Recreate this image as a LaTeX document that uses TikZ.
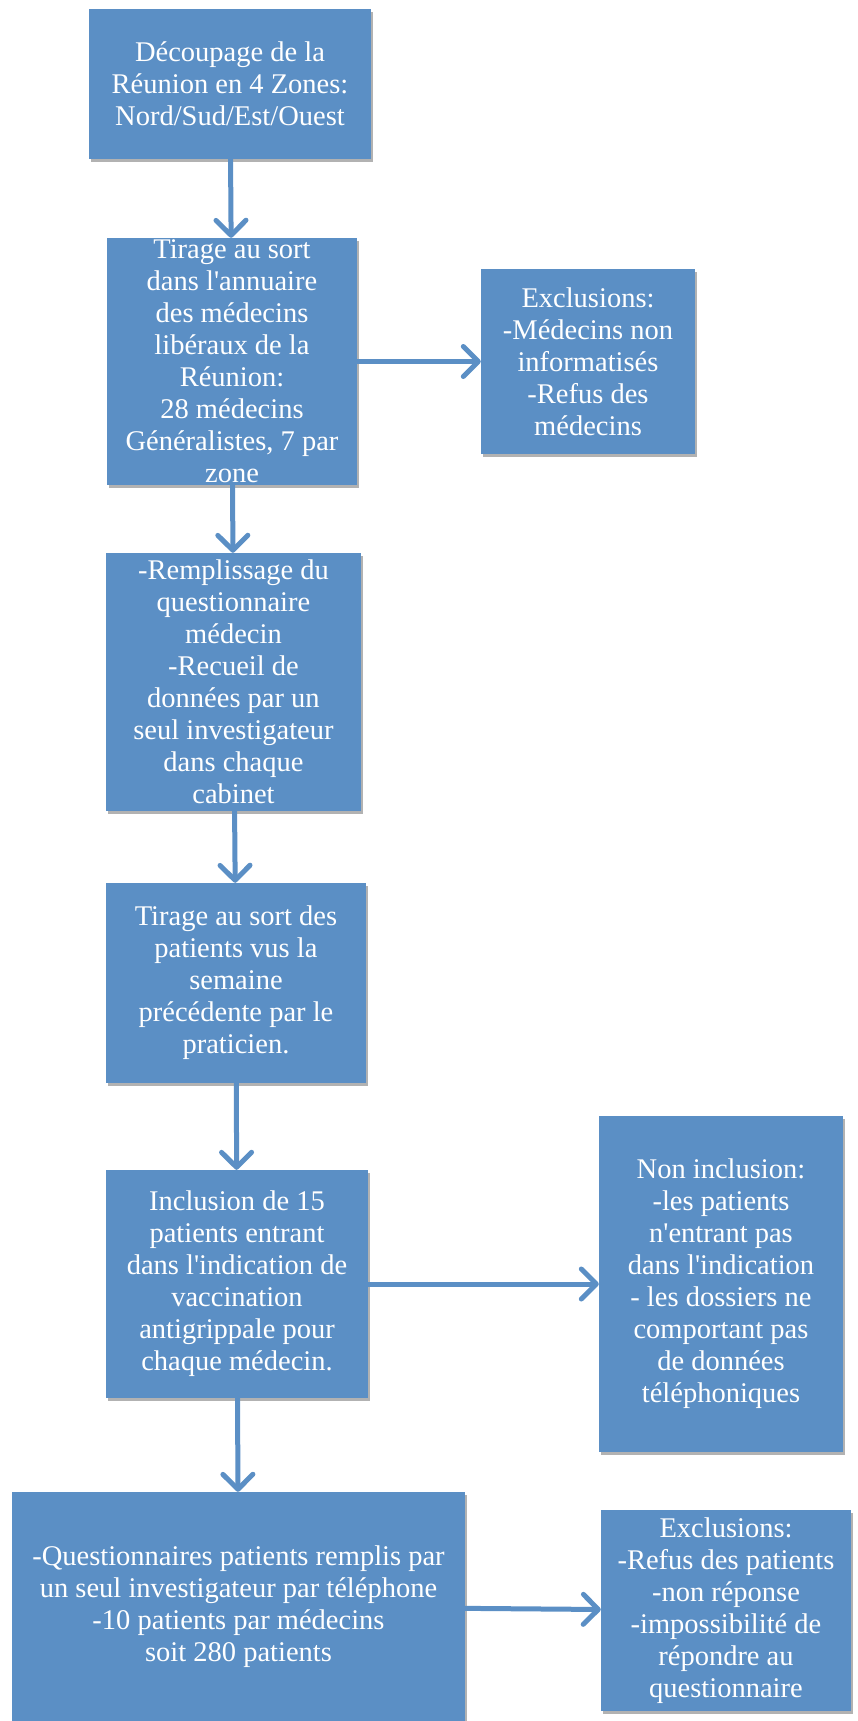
\documentclass[tikz,border=0pt]{standalone}
\usepackage{fontspec}
\setmainfont{Liberation Serif}[Ligatures=TeXOff]
\usetikzlibrary{arrows.meta,shadows}
\definecolor{boxblue}{RGB}{91,143,197}

\begin{document}
\begin{tikzpicture}[x=1pt, y=-1pt,
	etape/.style={rectangle, fill=boxblue, text=white, inner sep=0pt, align=center,
		font=\fontsize{28.5}{32}\selectfont,
		drop shadow={shadow xshift=2pt, shadow yshift=-3pt, fill=black, opacity=0.3}},
	fleche/.style={draw=boxblue, line width=5pt, line cap=round,
		-{Straight Barb[length=15pt, width=30pt, round]}}]
			%%%%% START %%%%%
			
			\useasboundingbox (0, 0) rectangle (858, 1721);
			
			\node[etape, minimum width=282pt, minimum height=150pt] (decoupage) at (230, 83.5)
				{Découpage de la\\Réunion en 4 Zones:\\Nord/Sud/Est/Ouest};
			
			\node[etape, minimum width=250pt, minimum height=247pt] (tiragemed) at (232, 361.5)
				{Tirage au sort\\dans l'annuaire\\des médecins\\libéraux de la\\Réunion:\\28 médecins\\Généralistes, 7 par\\zone};
			\node[etape, minimum width=214pt, minimum height=185pt] (exclmed) at (588, 361.5)
				{Exclusions:\\-Médecins non\\informatisés\\-Refus des\\médecins};
			
			\node[etape, minimum width=255pt, minimum height=258pt] (recueil) at (233.5, 682)
				{-Remplissage du\\questionnaire\\médecin\\-Recueil de\\données par un\\seul investigateur\\dans chaque\\cabinet};
			
			\node[etape, minimum width=260pt, minimum height=200pt] (tiragepat) at (236, 983)
				{Tirage au sort des\\patients vus la\\semaine\\précédente par le\\praticien.};
			
			\node[etape, minimum width=262pt, minimum height=228pt] (inclusion) at (237, 1284)
				{Inclusion de 15\\patients entrant\\dans l'indication de\\vaccination\\antigrippale pour\\chaque médecin.};
			\node[etape, minimum width=244pt, minimum height=336pt] (noninclus) at (721, 1284)
				{Non inclusion:\\-les patients\\n'entrant pas\\dans l'indication\\- les dossiers ne\\comportant pas\\de données\\téléphoniques};
			
			\node[etape, minimum width=453pt, minimum height=229pt] (questpat) at (238.5, 1606.5)
				{-Questionnaires patients remplis par\\un seul investigateur par téléphone\\-10 patients par médecins\\soit 280 patients};
			\node[etape, minimum width=250pt, minimum height=201pt] (exclpat) at (726, 1610.5)
				{Exclusions:\\-Refus des patients\\-non réponse\\-impossibilité de\\répondre au\\questionnaire};
			
			\draw[fleche] (decoupage) -- (tiragemed);
			\draw[fleche] (tiragemed) -- (exclmed);
			\draw[fleche] (tiragemed) -- (recueil);
			\draw[fleche] (recueil) -- (tiragepat);
			\draw[fleche] (tiragepat) -- (inclusion);
			\draw[fleche] (inclusion) -- (noninclus);
			\draw[fleche] (inclusion) -- (questpat);
			\draw[fleche] (questpat) -- (exclpat);
			
			%%%%% END %%%%%
\end{tikzpicture}
\end{document}
